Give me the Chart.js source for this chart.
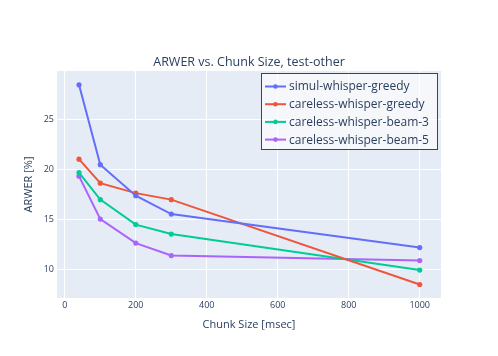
<!DOCTYPE html>
<html>
<head>
<meta charset="utf-8">
<script src="https://cdn.jsdelivr.net/npm/chart.js@4.4.1/dist/chart.umd.min.js"></script>
<style>
  html, body { margin: 0; padding: 0; background: #fff; }
  #wrap { position: relative; width: 498px; height: 356px; }
</style>
</head>
<body>
<div id="wrap"><canvas id="grafico" width="498" height="356"></canvas></div>
<script>
// valores
const chunkSizes = [40, 100, 200, 300, 1000];
const simulGreedy = [28.45, 20.45, 17.35, 15.5, 12.15];
const carelessGreedy = [21.0, 18.6, 17.6, 16.95, 8.45];
const carelessBeam3 = [19.65, 16.95, 14.45, 13.5, 9.9];
const carelessBeam5 = [19.3, 15.0, 12.6, 11.35, 10.85];

const seriesNames = ['simul-whisper-greedy', 'careless-whisper-greedy', 'careless-whisper-beam-3', 'careless-whisper-beam-5'];
const seriesColors = ['#636efa', '#ef553b', '#00cc96', '#ab63fa'];

const xTicks = [0, 200, 400, 600, 800, 1000];
const yTicks = [10, 15, 20, 25];

const titulo = 'ARWER vs. Chunk Size, test-other';
const FONTE = '"Open Sans", verdana, arial, sans-serif';
const COR_TEXTO = '#2a3f5f';

function pontos(ys) {
    return chunkSizes.map((x, i) => ({ x: x, y: ys[i] }));
}

const todasSeries = [simulGreedy, carelessGreedy, carelessBeam3, carelessBeam5];

// fundo da área do gráfico, título e legenda
const fundoPlot = {
    id: 'fundoPlot',
    beforeDraw(chart) {
        const { ctx, chartArea: a } = chart;
        ctx.save();
        ctx.fillStyle = '#e5ecf6';
        ctx.fillRect(a.left, a.top, a.right - a.left, a.bottom - a.top);
        ctx.restore();
    },
    afterDraw(chart) {
        const ctx = chart.ctx;
        ctx.save();
        ctx.fillStyle = COR_TEXTO;
        ctx.font = '12.5px ' + FONTE;
        ctx.textAlign = 'center';
        ctx.textBaseline = 'middle';
        ctx.fillText(titulo, 249, 62);

        // legenda
        const lx = 261.5, ly = 73.5, lw = 176, lh = 76;
        ctx.fillStyle = 'rgba(255,255,255,0.6)';
        ctx.fillRect(lx, ly, lw, lh);
        ctx.strokeStyle = '#444';
        ctx.lineWidth = 1;
        ctx.strokeRect(lx, ly, lw, lh);
        ctx.font = '12px ' + FONTE;
        ctx.textAlign = 'left';
        seriesNames.forEach((nome, i) => {
            const y = 86.5 + i * 17.7;
            ctx.strokeStyle = seriesColors[i];
            ctx.lineWidth = 2;
            ctx.beginPath();
            ctx.moveTo(265, y);
            ctx.lineTo(286, y);
            ctx.stroke();
            ctx.fillStyle = seriesColors[i];
            ctx.beginPath();
            ctx.arc(275.5, y, 2.3, 0, Math.PI * 2);
            ctx.fill();
            ctx.fillStyle = COR_TEXTO;
            ctx.fillText(nome, 289, y + 0.5);
        });
        ctx.restore();
    }
};

const ctx = document.getElementById('grafico').getContext('2d');

new Chart(ctx, {
    type: 'line',
    data: {
        datasets: todasSeries.map((ys, i) => ({
            label: seriesNames[i],
            data: pontos(ys),
            borderColor: seriesColors[i],
            backgroundColor: seriesColors[i],
            borderWidth: 2,
            pointRadius: 2.6,
            pointBorderWidth: 0,
            pointHoverRadius: 2.6,
            fill: false,
            tension: 0
        }))
    },
    options: {
        responsive: false,
        animation: false,
        events: [],
        layout: {
            padding: { top: 71, right: 57, bottom: 0, left: 0 }
        },
        plugins: {
            legend: { display: false },
            title: { display: false },
            tooltip: { enabled: false }
        },
        scales: {
            x: {
                type: 'linear',
                min: -22,
                max: 1060,
                afterBuildTicks: (s) => { s.ticks = xTicks.map(v => ({ value: v })); },
                afterFit: (s) => { s.height = 58; },
                grid: { color: '#ffffff', lineWidth: 1, drawTicks: false },
                border: { display: false },
                ticks: {
                    color: COR_TEXTO,
                    font: { family: FONTE, size: 9 },
                    padding: 2,
                    maxRotation: 0,
                    callback: (v) => String(v)
                },
                title: {
                    display: true,
                    text: 'Chunk Size [msec]',
                    color: COR_TEXTO,
                    font: { family: FONTE, size: 11 },
                    padding: { top: 0, bottom: 25 }
                }
            },
            y: {
                type: 'linear',
                min: 7.1,
                max: 29.83,
                afterBuildTicks: (s) => { s.ticks = yTicks.map(v => ({ value: v })); },
                afterFit: (s) => { s.width = 57; },
                grid: { color: '#ffffff', lineWidth: 1, drawTicks: false },
                border: { display: false },
                ticks: {
                    color: COR_TEXTO,
                    font: { family: FONTE, size: 9 },
                    padding: 3,
                    callback: (v) => String(v)
                },
                title: {
                    display: true,
                    text: 'ARWER [%]',
                    color: COR_TEXTO,
                    font: { family: FONTE, size: 11 },
                    padding: { top: 22, bottom: 0 }
                }
            }
        }
    },
    plugins: [fundoPlot]
});
</script>
</body>
</html>
